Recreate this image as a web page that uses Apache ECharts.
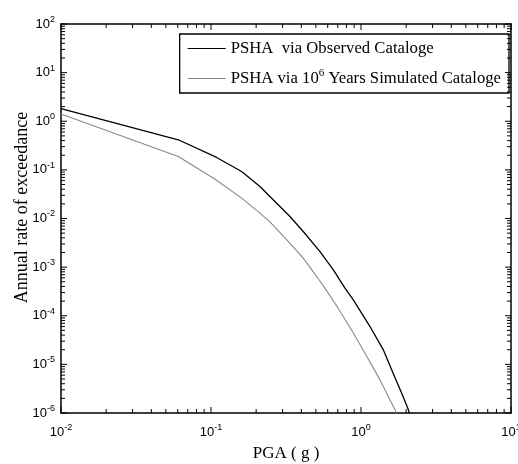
<!DOCTYPE html>
<html>
<head>
<meta charset="utf-8">
<script src="https://cdn.jsdelivr.net/npm/echarts@6/dist/echarts.min.js"></script>
<style>
  html, body { margin: 0; padding: 0; background: #fff; }
  #chart { width: 518px; height: 464px; }
</style>
</head>
<body>
<div id="chart"></div>
<script>
// PGA (g) vs annual rate of exceedance
const observedPga = [0.01, 0.0605, 0.109, 0.160, 0.212, 0.247, 0.336, 0.412, 0.533, 0.654, 0.782,
  0.889, 1.148, 1.409, 1.603, 1.868, 2.07, 2.1]
const observedRate = [1.81, 0.416, 0.180, 0.0927, 0.0455, 0.0284, 0.0110, 0.0054, 0.00209, 8.8e-4, 3.7e-4,
  2.12e-4, 6.0e-5, 1.99e-5, 7.7e-6, 2.55e-6, 1.16e-6, 1e-6]

const simulatedPga = [0.01, 0.0605, 0.106, 0.160, 0.212, 0.247, 0.320, 0.412, 0.507, 0.591, 0.689,
  0.889, 1.064, 1.339, 1.561, 1.686, 1.71]
const simulatedRate = [1.41, 0.189, 0.0647, 0.0263, 0.0129, 0.0085, 0.00365, 0.00153, 6.4e-4, 3.25e-4, 1.59e-4,
  4.4e-5, 1.7e-5, 4.8e-6, 1.86e-6, 1.16e-6, 1e-6]

const seriesNames = ['PSHA  via Observed Cataloge', 'PSHA via 10^6 Years Simulated Cataloge']

const xDecades = [0.01, 0.1, 1]
const yDecades = [1e-6, 1e-5, 1e-4, 1e-3, 1e-2, 1e-1, 1, 10]
const minorSteps = [2, 3, 4, 5, 6, 7, 8, 9]
const xMajor = [0.01, 0.1, 1, 10]
const yMajor = [1e-6, 1e-5, 1e-4, 1e-3, 1e-2, 1e-1, 1, 10, 100]

const X_MIN = 0.01
const X_MAX = 10
const Y_MIN = 1e-6
const Y_MAX = 100

const toPairs = (xs, ys) => xs.map((x, i) => [x, ys[i]])

// tick marks: [value, length]
const xTicks = []
xDecades.forEach((d) => minorSteps.forEach((m) => xTicks.push([d * m, 4])))
xMajor.forEach((v) => xTicks.push([v, 6]))
const yTicks = []
yDecades.forEach((d) => minorSteps.forEach((m) => yTicks.push([d * m, 4])))
yMajor.forEach((v) => yTicks.push([v, 6]))

const powLabel = (v) => {
  const e = Math.round(Math.log10(v))
  return `{b|10}{s|${e}}`
}

const tickRich = {
  b: { fontFamily: 'Liberation Sans', fontSize: 13, color: '#000' },
  s: { fontFamily: 'Liberation Sans', fontSize: 9, color: '#000', padding: [0, 0, 9, 0] },
}

const baseAxis = {
  type: 'log',
  logBase: 10,
  axisLine: { show: true, onZero: false, lineStyle: { color: '#000', width: 1.5 } },
  axisTick: { show: false },
  splitLine: { show: false },
}

// one custom series per plot edge; each item is a single inward tick
const edgeTicks = (ticks, edge) => ({
  type: 'custom',
  clip: false,
  z: 10,
  data: ticks.map((t) => [t[0], edge === 'left' || edge === 'right' ? t[0] : 1]),
  encode: edge === 'left' || edge === 'right' ? { y: 0 } : { x: 0 },
  renderItem: (params, api) => {
    const v = api.value(0)
    const len = ticks[params.dataIndex][1]
    let p
    let d
    if (edge === 'bottom') { p = api.coord([v, Y_MIN]); d = [0, -len] }
    if (edge === 'top') { p = api.coord([v, Y_MAX]); d = [0, len] }
    if (edge === 'left') { p = api.coord([X_MIN, v]); d = [len, 0] }
    if (edge === 'right') { p = api.coord([X_MAX, v]); d = [-len, 0] }
    return {
      type: 'line',
      shape: { x1: p[0], y1: p[1], x2: p[0] + d[0], y2: p[1] + d[1] },
      style: { stroke: '#000', lineWidth: 1 },
    }
  },
})

const chart = echarts.init(document.getElementById('chart'))
chart.setOption({
  animation: false,
  backgroundColor: '#fff',
  grid: { left: 61, right: 7, top: 24, bottom: 51, containLabel: false, outerBoundsMode: 'none' },
  legend: {
    right: 9,
    top: 34,
    orient: 'vertical',
    backgroundColor: '#fff',
    borderColor: '#000',
    borderWidth: 1.3,
    borderRadius: 0,
    padding: [6, 8, 6, 8],
    itemWidth: 38,
    itemHeight: 16,
    itemGap: 11,
    icon: 'path://M0,7.5 L38,7.5 L38,8.6 L0,8.6 Z',
    formatter: (name) => name.replace('10^6', '{n|10}{s|6}'),
    textStyle: {
      fontFamily: 'Liberation Serif',
      fontSize: 16.7,
      color: '#000',
      rich: {
        n: { fontFamily: 'Liberation Serif', fontSize: 16.7, color: '#000' },
        s: { fontFamily: 'Liberation Serif', fontSize: 11, color: '#000', padding: [0, 0, 10, 0] },
      },
    },
    data: seriesNames,
  },
  xAxis: [
    {
      ...baseAxis,
      min: X_MIN,
      max: X_MAX,
      position: 'bottom',
      name: 'PGA ( g )',
      nameLocation: 'middle',
      nameGap: 32,
      nameMoveOverlap: false,
      nameTextStyle: { fontFamily: 'Liberation Serif', fontSize: 17, color: '#000' },
      axisLabel: { formatter: powLabel, rich: tickRich, margin: 10 },
    },
    {
      ...baseAxis,
      min: X_MIN,
      max: X_MAX,
      position: 'top',
      axisLabel: { show: false },
    },
  ],
  yAxis: [
    {
      ...baseAxis,
      min: Y_MIN,
      max: Y_MAX,
      position: 'left',
      name: 'Annual rate of exceedance',
      nameLocation: 'middle',
      nameGap: 30,
      nameMoveOverlap: false,
      nameTextStyle: { fontFamily: 'Liberation Serif', fontSize: 18, color: '#000', padding: [0, 0, 0, 22] },
      axisLabel: { formatter: powLabel, rich: tickRich, margin: 6 },
    },
    {
      ...baseAxis,
      min: Y_MIN,
      max: Y_MAX,
      position: 'right',
      axisLabel: { show: false },
    },
  ],
  series: [
    {
      name: seriesNames[0],
      type: 'line',
      data: toPairs(observedPga, observedRate),
      showSymbol: false,
      lineStyle: { color: '#000', width: 1.3 },
      itemStyle: { color: '#000' },
    },
    {
      name: seriesNames[1],
      type: 'line',
      data: toPairs(simulatedPga, simulatedRate),
      showSymbol: false,
      lineStyle: { color: '#888', width: 1.1 },
      itemStyle: { color: '#888' },
    },
    edgeTicks(xTicks, 'bottom'),
    edgeTicks(xTicks, 'top'),
    edgeTicks(yTicks, 'left'),
    edgeTicks(yTicks, 'right'),
  ],
})
</script>
</body>
</html>
